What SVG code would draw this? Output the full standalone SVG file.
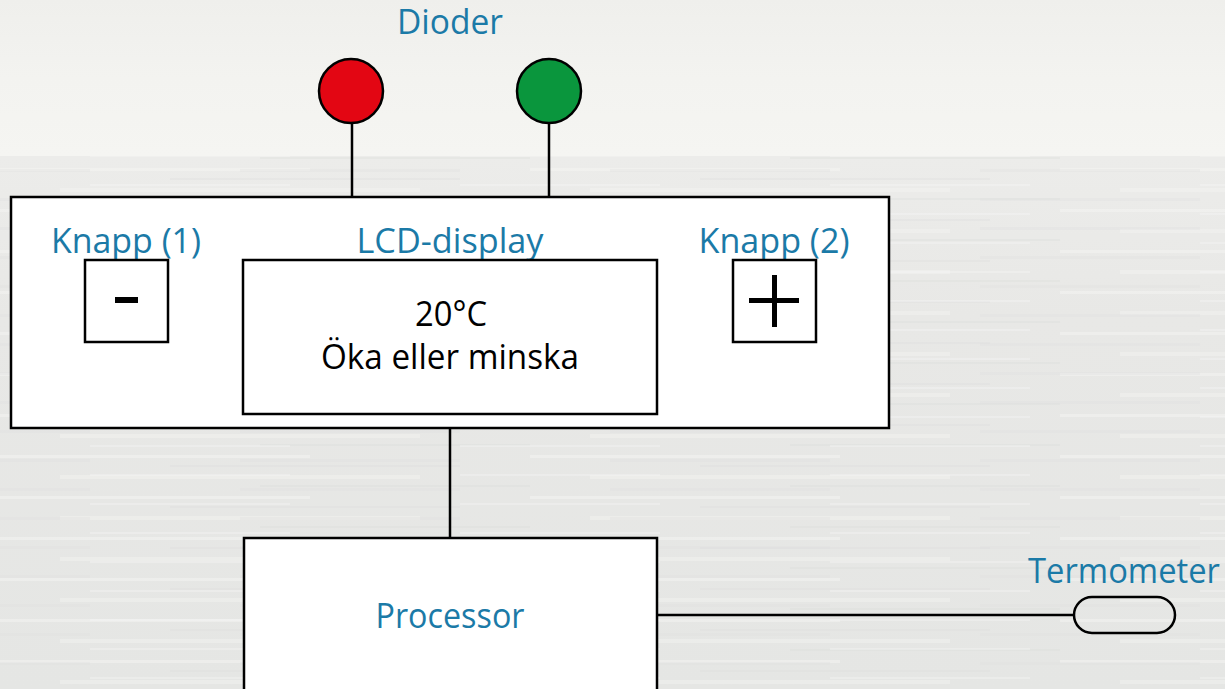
<svg xmlns="http://www.w3.org/2000/svg" width="1225" height="689" viewBox="0 0 1225 689">
  <defs>
    <linearGradient id="sky" x1="0" y1="0" x2="0" y2="1">
      <stop offset="0" stop-color="#efefec"/>
      <stop offset="0.5" stop-color="#f3f3f0"/>
      <stop offset="1" stop-color="#f5f5f2"/>
    </linearGradient>
    <linearGradient id="sea" x1="0" y1="0" x2="0" y2="1">
      <stop offset="0" stop-color="#ececea"/>
      <stop offset="0.3" stop-color="#e8e8e6"/>
      <stop offset="1" stop-color="#e5e6e4"/>
    </linearGradient>
    <pattern id="waves" x="0" y="0" width="530" height="41" patternUnits="userSpaceOnUse">
      <rect x="0" y="4" width="310" height="3" fill="#f6f6f4" opacity="0.45"/>
      <rect x="170" y="14" width="290" height="2" fill="#dcdddb" opacity="0.35"/>
      <rect x="60" y="24" width="360" height="4" fill="#f4f4f2" opacity="0.4"/>
      <rect x="260" y="34" width="270" height="2" fill="#dadbd9" opacity="0.3"/>
    </pattern>
    <pattern id="waves2" x="90" y="7" width="370" height="29" patternUnits="userSpaceOnUse">
      <rect x="0" y="3" width="200" height="2" fill="#f7f7f5" opacity="0.35"/>
      <rect x="150" y="17" width="220" height="3" fill="#dfe0de" opacity="0.3"/>
    </pattern>
    <style>
      .lbl { font-family: "Open Sans", "Noto Sans", "Liberation Sans", sans-serif; font-size: 34px; fill: #1b7aa7; text-anchor: middle; }
      .txt { font-family: "Open Sans", "Noto Sans", "Liberation Sans", sans-serif; font-size: 34px; fill: #000000; text-anchor: middle; }
      .box { fill: #ffffff; stroke: #000000; stroke-width: 2.5; }
      .wire { stroke: #000000; stroke-width: 2.5; fill: none; }
    </style>
  </defs>

  <g id="background">
    <rect x="0" y="0" width="1225" height="156" fill="url(#sky)"/>
    <rect x="0" y="156" width="1225" height="533" fill="url(#sea)"/>
    <rect x="0" y="156" width="1225" height="533" fill="url(#waves)"/>
    <rect x="0" y="156" width="1225" height="533" fill="url(#waves2)"/>
  </g>

  <g id="connectors">
    <line class="wire" x1="352" y1="122" x2="352" y2="197"/>
    <line class="wire" x1="549" y1="122" x2="549" y2="197"/>
    <line class="wire" x1="450" y1="428" x2="450" y2="538"/>
    <line class="wire" x1="657" y1="615" x2="1074" y2="615"/>
  </g>

  <g id="dioder">
    <text class="lbl" x="450" y="34" textLength="106" lengthAdjust="spacingAndGlyphs">Dioder</text>
    <circle id="diod-rod" cx="351" cy="91" r="32" fill="#e30613" stroke="#000" stroke-width="2.5"/>
    <circle id="diod-gron" cx="549" cy="91" r="32" fill="#0a963d" stroke="#000" stroke-width="2.5"/>
  </g>

  <g id="panel">
    <rect class="box" x="11" y="197" width="878" height="231"/>
  </g>

  <g id="knapp1">
    <text class="lbl" x="126" y="253" textLength="150" lengthAdjust="spacingAndGlyphs">Knapp (1)</text>
    <rect class="box" x="85" y="260" width="83" height="82"/>
    <rect x="115" y="297" width="23" height="6" fill="#000"/>
  </g>

  <g id="lcd">
    <text class="lbl" x="450" y="253" textLength="187" lengthAdjust="spacingAndGlyphs">LCD-display</text>
    <rect class="box" x="243" y="260" width="414" height="154"/>
    <text class="txt" x="451" y="326" textLength="72" lengthAdjust="spacingAndGlyphs">20°C</text>
    <text class="txt" x="450" y="369" textLength="258" lengthAdjust="spacingAndGlyphs">Öka eller minska</text>
  </g>

  <g id="knapp2">
    <text class="lbl" x="774" y="253" textLength="151" lengthAdjust="spacingAndGlyphs">Knapp (2)</text>
    <rect class="box" x="733" y="260" width="83" height="82"/>
    <rect x="749" y="298" width="50" height="5" fill="#000"/>
    <rect x="772" y="275" width="5" height="52" fill="#000"/>
  </g>

  <g id="processor">
    <rect class="box" x="244" y="538" width="413" height="160"/>
    <text class="lbl" x="450" y="628" textLength="149" lengthAdjust="spacingAndGlyphs">Processor</text>
  </g>

  <g id="termometer">
    <text class="lbl" x="1124" y="583" textLength="192" lengthAdjust="spacingAndGlyphs">Termometer</text>
    <rect x="1074" y="597" width="101" height="36" rx="18" ry="18" fill="none" stroke="#000" stroke-width="2.5"/>
  </g>
</svg>
